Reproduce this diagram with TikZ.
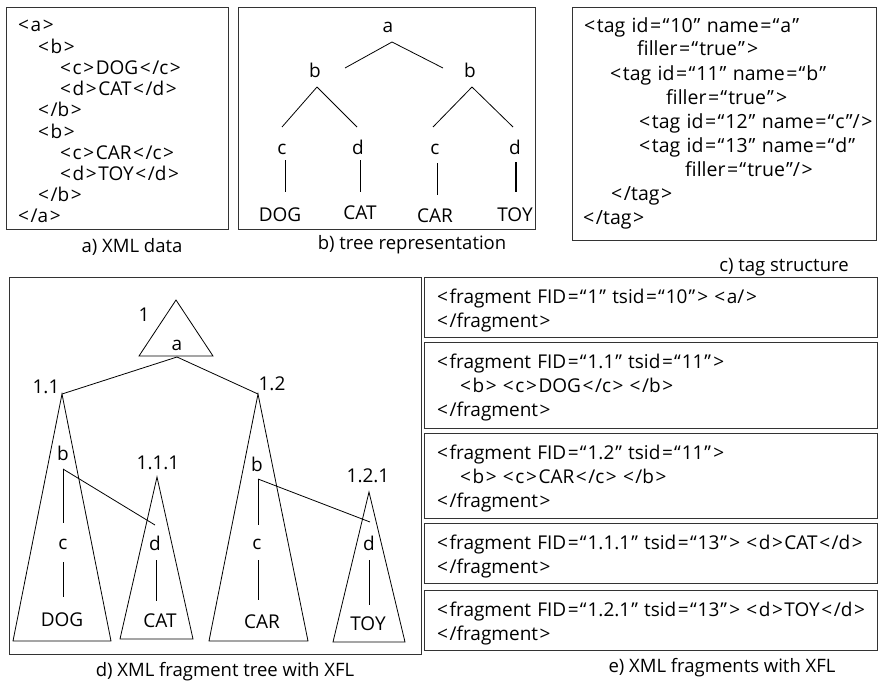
\documentclass[tikz,border=0pt]{standalone}
\usepackage{fontspec}
\setmainfont{Open Sans}
\newfontfamily\codefont[WordSpace=1.8]{Open Sans}
\newfontfamily\tagfont[WordSpace=1.25]{Open Sans}
% wider spacing around markup characters and curly quotes
\XeTeXinterchartokenstate=1
\newXeTeXintercharclass\clsMark
\newXeTeXintercharclass\clsOpenQ
\newXeTeXintercharclass\clsCloseQ
\XeTeXcharclass`\< = \clsMark
\XeTeXcharclass`\> = \clsMark
\XeTeXcharclass`\= = \clsMark
\XeTeXcharclass"201C = \clsOpenQ
\XeTeXcharclass"201D = \clsCloseQ
\XeTeXinterchartoks 0 \clsMark = {\kern1.6pt}
\XeTeXinterchartoks \clsMark 0 = {\kern1.6pt}
\XeTeXinterchartoks \clsMark \clsMark = {\kern1.6pt}
\XeTeXinterchartoks \clsMark \clsOpenQ = {\kern1.2pt}
\XeTeXinterchartoks \clsOpenQ 0 = {\kern1pt}
\XeTeXinterchartoks 0 \clsCloseQ = {\kern1pt}
\XeTeXinterchartoks \clsCloseQ \clsMark = {\kern2.2pt}
\begin{document}
\begin{tikzpicture}[x=1pt,y=-1pt,
  txt/.style={font=\codefont\fontsize{19}{22}\selectfont, inner sep=0pt, anchor=base west},
  tagtxt/.style={txt, font=\tagfont\fontsize{19.5}{22}\selectfont},
  lbl/.style={font=\fontsize{19}{22}\selectfont, inner sep=0pt},
  capt/.style={font=\fontsize{18.5}{22}\selectfont, inner sep=0pt},
  frame/.style={draw=black!80, line width=1pt},
  link/.style={line width=0.8pt}]
\useasboundingbox (0,0) rectangle (880,685);

% ---------- a) XML data ----------
\draw[frame] (6,8) rectangle (228,229);
\node[txt] (xa1)  at (18,32)    {<a>};
\node[txt] (xa2)  at (38,53.2)  {<b>};
\node[txt] (xa3)  at (60,74.4)  {<c>DOG</c>};
\node[txt] (xa4)  at (60,95.6)  {<d>CAT</d>};
\node[txt] (xa5)  at (38,116.8) {</b>};
\node[txt] (xa6)  at (38,138)   {<b>};
\node[txt] (xa7)  at (60,159.2) {<c>CAR</c>};
\node[txt] (xa8)  at (60,180.4) {<d>TOY</d>};
\node[txt] (xa9)  at (38,201.6) {</b>};
\node[txt] (xa10) at (18,222.8) {</a>};
\node[capt] (capa) at (132,247) {a) XML data};

% ---------- b) tree representation ----------
\draw[frame] (238,8) rectangle (535,229);
\node[lbl] (ta)   at (388,27.5)  {a};
\node[lbl] (tbl)  at (315,70.5)  {b};
\node[lbl] (tbr)  at (470,70.5)  {b};
\node[lbl] (tc1)  at (282,149)   {c};
\node[lbl] (td1)  at (358,147.5) {d};
\node[lbl] (tc2)  at (435,149)   {c};
\node[lbl] (td2)  at (515,147.5) {d};
\node[lbl] (tdog) at (280,214.5) {DOG};
\node[lbl] (tcat) at (360,212.5) {CAT};
\node[lbl] (tcar) at (435,215.5) {CAR};
\node[lbl] (ttoy) at (515,214.5) {TOY};
\draw[link] ([shift={(30,-2.5)}]tbl.center) -- ([shift={(4,14.5)}]ta.center)
            -- ([shift={(-27,-2.5)}]tbr.center);
\draw[link] ([shift={(2,16.5)}]tbl.center) -- ([shift={(0,-22)}]tc1.center);
\draw[link] ([shift={(2,16.5)}]tbl.center) -- ([shift={(-1,-20.5)}]td1.center);
\draw[link] ([shift={(2,16.5)}]tbr.center) -- ([shift={(-2,-22)}]tc2.center);
\draw[link] ([shift={(2,16.5)}]tbr.center) -- ([shift={(-2,-20.5)}]td2.center);
\draw[link] ([shift={(3,11)}]tc1.center) -- ([shift={(5,-22.5)}]tdog.center);
\draw[link] ([shift={(2,12.5)}]td1.center) -- ([shift={(0,-20.5)}]tcat.center);
\draw[link] ([shift={(2,14)}]tc2.center) -- ([shift={(2,-20.5)}]tcar.center);
\draw[line width=2pt] ([shift={(1,14.5)}]td2.center) -- ([shift={(1,-22.5)}]ttoy.center);
\node[capt] (capb) at (412,245) {b) tree representation};

% ---------- c) tag structure ----------
\draw[frame] (572,8) rectangle (876,240);
\node[tagtxt] (tg1) at (584,33)  {<tag id=“10” name=“a”};
\node[tagtxt] (tg2) at (637,56)  {filler=“true”>};
\node[tagtxt] (tg3) at (610,80)  {<tag id=“11” name=“b”};
\node[tagtxt] (tg4) at (666,104) {filler=“true”>};
\node[tagtxt] (tg5) at (639,128) {<tag id=“12” name=“c”/>};
\node[tagtxt] (tg6) at (639,152) {<tag id=“13” name=“d”};
\node[tagtxt] (tg7) at (685,176) {filler=“true”/>};
\node[tagtxt] (tg8) at (611,200) {</tag>};
\node[tagtxt] (tg9) at (583,224) {</tag>};
\node[capt] (capc) at (784,267) {c) tag structure};

% ---------- d) XML fragment tree with XFL ----------
\draw[frame] (9,277) rectangle (421,654);
% fragment triangles
\draw[link] (176,300) -- (213,356) -- (139,356) -- cycle;
\draw[link] (62,394)  -- (111,641) -- (13,641)  -- cycle;
\draw[link] (157,477) -- (193,639) -- (120,639) -- cycle;
\draw[link] (258,394) -- (308,641) -- (209,641) -- cycle;
\draw[link] (369,492) -- (405,642) -- (333,642) -- cycle;
\coordinate (f1base) at (177,357);
\coordinate (f11top) at (62,394);
\coordinate (f12top) at (258,394);
\draw[link] (f11top) -- (f1base) -- (f12top);
% fragment ids
\node[lbl] (n1)   at (144,315) {1};
\node[lbl] (n11)  at (46,387)  {1.1};
\node[lbl] (n12)  at (272,384) {1.2};
\node[lbl] (n111) at (158,463) {1.1.1};
\node[lbl] (n121) at (368,476) {1.2.1};
% element labels
\node[lbl] (fa)   at (177,345) {a};
\node[lbl] (fb1)  at (63,453)  {b};
\node[lbl] (fb2)  at (257,464) {b};
\node[lbl] (fc1)  at (63,544)  {c};
\node[lbl] (fd1)  at (155,543) {d};
\node[lbl] (fc2)  at (257,544) {c};
\node[lbl] (fd2)  at (369,543) {d};
\node[lbl] (fdog) at (62,620)  {DOG};
\node[lbl] (fcat) at (160,621) {CAT};
\node[lbl] (fcar) at (262,622) {CAR};
\node[lbl] (ftoy) at (368,624) {TOY};
\draw[link] ([shift={(0,16)}]fb1.center) -- ([shift={(0,-21)}]fc1.center);
\draw[link] ([shift={(0,16)}]fb1.center) -- ([shift={(0,-18)}]fd1.center);
\draw[link] ([shift={(0,18)}]fc1.center) -- ([shift={(1,-23)}]fdog.center);
\draw[link] ([shift={(1,17)}]fd1.center) -- ([shift={(-4,-20)}]fcat.center);
\draw[link] ([shift={(1,15)}]fb2.center) -- ([shift={(1,-19)}]fc2.center);
\draw[link] ([shift={(1,15)}]fb2.center) -- ([shift={(1,-21)}]fd2.center);
\draw[link] ([shift={(1,16)}]fc2.center) -- ([shift={(-4,-22)}]fcar.center);
\draw[link] ([shift={(0,17)}]fd2.center) -- ([shift={(1,-19)}]ftoy.center);
\node[capt] (capd) at (225,672) {d) XML fragment tree with XFL};

% ---------- e) XML fragments with XFL ----------
\draw[frame] (424,277) rectangle (877,337);
\draw[frame] (424,342) rectangle (877,428);
\draw[frame] (424,433) rectangle (877,518);
\draw[frame] (424,523) rectangle (877,583);
\draw[frame] (424,590) rectangle (877,650);
\node[txt] (e1a) at (437,303) {<fragment FID=“1” tsid=“10”> <a/>};
\node[txt] (e1b) at (437,327) {</fragment>};
\node[txt] (e2a) at (437,368) {<fragment FID=“1.1” tsid=“11”>};
\node[txt] (e2b) at (460,392) {<b> <c>DOG</c> </b>};
\node[txt] (e2c) at (437,416) {</fragment>};
\node[txt] (e3a) at (437,459) {<fragment FID=“1.2” tsid=“11”>};
\node[txt] (e3b) at (460,483) {<b> <c>CAR</c> </b>};
\node[txt] (e3c) at (437,507) {</fragment>};
\node[txt] (e4a) at (437,549) {<fragment FID=“1.1.1” tsid=“13”> <d>CAT</d>};
\node[txt] (e4b) at (437,573) {</fragment>};
\node[txt] (e5a) at (437,616) {<fragment FID=“1.2.1” tsid=“13”> <d>TOY</d>};
\node[txt] (e5b) at (437,640) {</fragment>};
\node[capt] (cape) at (722,668) {e) XML fragments with XFL};
\end{tikzpicture}
\end{document}
